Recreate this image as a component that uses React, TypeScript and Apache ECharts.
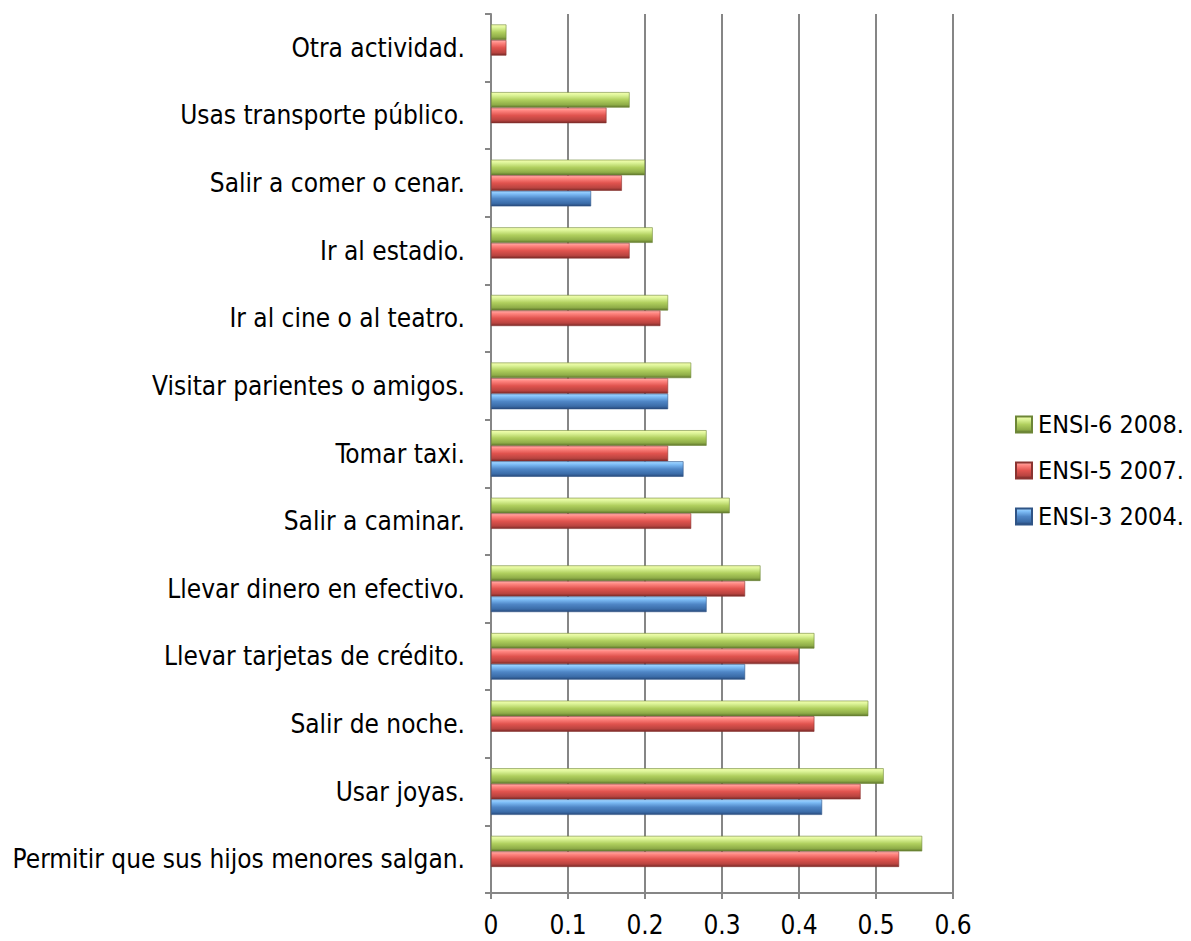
import React, { useEffect, useRef } from "react";
import * as echarts from "echarts";

const categories = [
  "Permitir que sus hijos menores salgan.",
  "Usar joyas.",
  "Salir de noche.",
  "Llevar tarjetas de crédito.",
  "Llevar dinero en efectivo.",
  "Salir a caminar.",
  "Tomar taxi.",
  "Visitar parientes o amigos.",
  "Ir al cine o al teatro.",
  "Ir al estadio.",
  "Salir a comer o cenar.",
  "Usas transporte público.",
  "Otra actividad.",
];

const ensi3_2004 = [null, 0.43, null, 0.33, 0.28, null, 0.25, 0.23, null, null, 0.13, null, null];
const ensi5_2007 = [0.53, 0.48, 0.42, 0.40, 0.33, 0.26, 0.23, 0.23, 0.22, 0.18, 0.17, 0.15, 0.02];
const ensi6_2008 = [0.56, 0.51, 0.49, 0.42, 0.35, 0.31, 0.28, 0.26, 0.23, 0.21, 0.20, 0.18, 0.02];

const xTicks = [0, 0.1, 0.2, 0.3, 0.4, 0.5, 0.6];

const FONT = "'DejaVu Sans Condensed', 'DejaVu Sans', sans-serif";

function grad(top: string, hi: string, mid: string, low: string, bottom: string) {
  return new echarts.graphic.LinearGradient(0, 0, 0, 1, [
    { offset: 0, color: top },
    { offset: 0.18, color: hi },
    { offset: 0.5, color: mid },
    { offset: 0.82, color: low },
    { offset: 1, color: bottom },
  ]);
}

export default function App() {
  const ref = useRef<HTMLDivElement>(null);
  useEffect(() => {
    document.body.style.margin = "0";
    const chart = echarts.init(ref.current!, null, { renderer: "svg" });
    const blue = grad("#a8d8ff", "#7fbef7", "#4f86c6", "#3b6ca8", "#28497a");
    const red = grad("#ffb0aa", "#ff8580", "#e0534e", "#b94440", "#7a2a28");
    const green = grad("#f6ffb0", "#def59a", "#b0cf5e", "#8fad48", "#5f762c");
    const series = [
      { name: "ENSI-6 2008.", data: ensi6_2008, color: green, border: "#6d8637" },
      { name: "ENSI-5 2007.", data: ensi5_2007, color: red, border: "#8a3431" },
      { name: "ENSI-3 2004.", data: ensi3_2004, color: blue, border: "#2f5486" },
    ].map((s) => ({
      name: s.name,
      type: "bar",
      data: s.data,
      barGap: "0%",
      barCategoryGap: "31%",
      itemStyle: { color: s.color, borderColor: s.border, borderWidth: 0.6 },
    }));
    chart.setOption({
      animation: false,
      textStyle: { fontFamily: FONT },
      grid: { left: 491, right: 238, top: 14, bottom: 48 },
      legend: {
        orient: "vertical",
        left: 1010,
        top: 407,
        padding: 5,
        icon: "rect",
        itemWidth: 16,
        itemHeight: 16,
        itemGap: 21,
        data: ["ENSI-6 2008.", "ENSI-5 2007.", "ENSI-3 2004."],
        textStyle: { fontSize: 25, color: "#000", fontFamily: FONT, padding: [0, 0, 0, 1] },
      },
      xAxis: {
        type: "value",
        min: 0,
        max: 0.6,
        interval: 0.1,
        axisLine: { show: true, lineStyle: { color: "#868686", width: 2 } },
        axisTick: { show: true, length: 6, lineStyle: { color: "#868686", width: 2 } },
        axisLabel: {
          fontSize: 26,
          color: "#000",
          margin: 19,
          fontFamily: FONT,
          formatter: (v: number) => {
            const t = xTicks.find((x) => Math.abs(x - v) < 1e-9);
            return t === undefined ? "" : String(t);
          },
        },
        splitLine: { show: true, lineStyle: { color: "#868686", width: 2 } },
      },
      yAxis: {
        type: "category",
        data: categories,
        axisLine: { show: true, lineStyle: { color: "#868686", width: 2 } },
        axisTick: { show: true, length: 6, lineStyle: { color: "#868686", width: 2 } },
        axisLabel: { fontSize: 26, color: "#000", margin: 26, fontFamily: FONT },
      },
      series,
    });
    return () => chart.dispose();
  }, []);
  return <div ref={ref} style={{ width: 1191, height: 941 }} />;
}
